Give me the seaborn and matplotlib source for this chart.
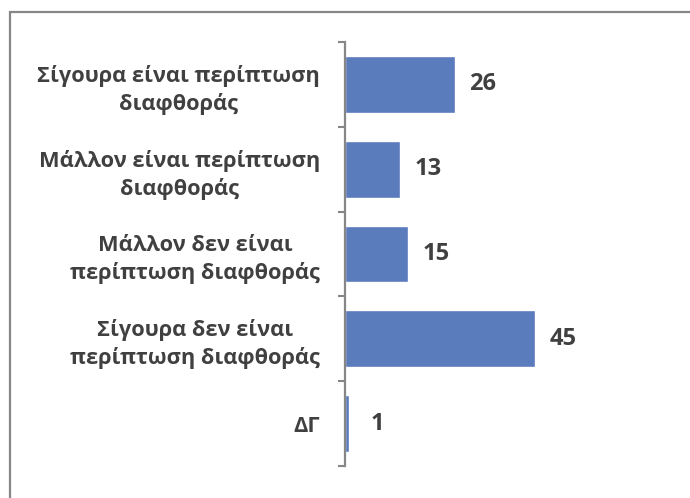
import matplotlib
matplotlib.use("Agg")
import matplotlib.pyplot as plt
import seaborn as sns
import pandas as pd
from matplotlib.patches import Rectangle

# data
categorias = [
    "Σίγουρα είναι περίπτωση\nδιαφθοράς",
    "Μάλλον είναι περίπτωση\nδιαφθοράς",
    "Μάλλον δεν είναι\nπερίπτωση διαφθοράς",
    "Σίγουρα δεν είναι\nπερίπτωση διαφθοράς",
    "ΔΓ",
]
valores = [26, 13, 15, 45, 1]

df = pd.DataFrame({"cat": categorias, "val": valores})

sns.set_style("white")
plt.rcParams['font.family'] = ['Open Sans', 'DejaVu Sans']

fig = plt.figure(figsize=(6.9, 4.98), dpi=100)
ax = fig.add_axes([0.5, 0.0643, 0.368, 0.8514])

sns.barplot(data=df, x="val", y="cat", color="#5A7BBC", width=0.67,
            saturation=1, ax=ax, orient="h")

ax.set_xlim(0, 60)
ax.set_ylim(len(categorias) - 0.5, -0.5)
ax.set_xlabel("")
ax.set_ylabel("")
ax.set_xticks([])

for s in ["top", "right", "bottom"]:
    ax.spines[s].set_visible(False)
ax.spines["left"].set_color("#868686")
ax.spines["left"].set_linewidth(1.6)

# etiquetas de categoria
ax.set_yticks(range(len(categorias)))
ax.set_yticklabels(categorias, fontsize=15.7, fontweight="bold", color="#404040",
                   multialignment="center", linespacing=1.35)
ax.tick_params(axis="y", which="major", length=0, pad=18)

# marcas entre categorias
ax.set_yticks([i - 0.5 for i in range(len(categorias) + 1)], minor=True)
ax.tick_params(axis="y", which="minor", left=True, length=5, width=1.5,
               color="#868686", direction="out")

for i, v in enumerate(valores):
    ax.text(v + 6.6, i, str(v), va="center", ha="center", fontsize=17,
            fontweight="bold", color="#404040")

# marco
fig.patches.append(Rectangle((10 / 690, -0.1), 1.2, 1 - 12 / 498 + 0.1,
                             transform=fig.transFigure, fill=False,
                             edgecolor="#868686", linewidth=1.6))

fig.savefig("out.png", dpi=100)
